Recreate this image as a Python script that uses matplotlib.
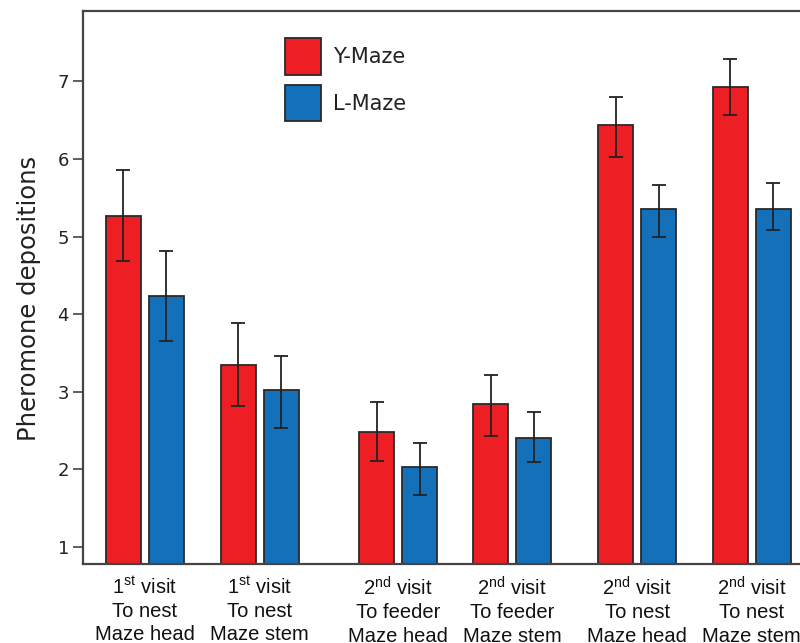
import matplotlib
matplotlib.use("Agg")
import matplotlib.pyplot as plt
import numpy as np

# ---- data ----
categories = [
    "1$^{\\mathrm{st}}$ visit\nTo nest\nMaze head",
    "1$^{\\mathrm{st}}$ visit\nTo nest\nMaze stem",
    "2$^{\\mathrm{nd}}$ visit\nTo feeder\nMaze head",
    "2$^{\\mathrm{nd}}$ visit\nTo feeder\nMaze stem",
    "2$^{\\mathrm{nd}}$ visit\nTo nest\nMaze head",
    "2$^{\\mathrm{nd}}$ visit\nTo nest\nMaze stem",
]
y_maze = [5.26, 3.34, 2.48, 2.84, 6.44, 6.93]
y_maze_err_low = [0.57, 0.52, 0.37, 0.41, 0.41, 0.36]
y_maze_err_high = [0.60, 0.55, 0.39, 0.37, 0.36, 0.36]
l_maze = [4.23, 3.02, 2.03, 2.40, 5.35, 5.35]
l_maze_err_low = [0.58, 0.49, 0.36, 0.31, 0.35, 0.27]
l_maze_err_high = [0.58, 0.44, 0.31, 0.34, 0.32, 0.34]
yticks = [1, 2, 3, 4, 5, 6, 7]

# ---- layout ----
group_pos = np.array([0.0, 1.0, 2.204, 3.196, 4.283, 5.278])
offset = 0.187
width = 0.304

plt.rcParams['mathtext.fontset'] = 'custom'
plt.rcParams['mathtext.rm'] = 'Liberation Sans'
plt.rcParams['mathtext.it'] = 'Liberation Sans'

fig = plt.figure(figsize=(8.0, 6.43), dpi=100)
ax = fig.add_axes([0.1035, 0.1236, 0.9, 0.8598])

red = "#ED1F24"
blue = "#1370B9"
edge = "#2a2a2a"

ax.bar(group_pos - offset, np.array(y_maze), width, bottom=0, color=red,
       edgecolor=edge, linewidth=1.3, label="Y-Maze", zorder=2)
ax.bar(group_pos + offset, np.array(l_maze), width, bottom=0, color=blue,
       edgecolor=edge, linewidth=1.3, label="L-Maze", zorder=2)
ax.errorbar(group_pos - offset, y_maze, yerr=[y_maze_err_low, y_maze_err_high],
            fmt='none', ecolor="#222222", elinewidth=1.3, capsize=4.8, capthick=1.3, zorder=3)
ax.errorbar(group_pos + offset, l_maze, yerr=[l_maze_err_low, l_maze_err_high],
            fmt='none', ecolor="#222222", elinewidth=1.3, capsize=4.8, capthick=1.3, zorder=3)

ax.set_ylim(0.787, 7.91)
ax.set_xlim(-0.539, 5.722)
ax.set_yticks(yticks)
ax.set_yticklabels([str(t) for t in yticks], fontsize=13, family="DejaVu Sans", color="#222222")
ax.tick_params(axis='y', length=7, width=1.2, color="#444444", pad=3)
ax.set_xticks(group_pos)
ax.set_xticklabels(categories, fontsize=14.5, family="Liberation Sans", linespacing=1.28,
                   color="#111111")
ax.tick_params(axis='x', length=0, pad=9)

ax.set_ylabel("Pheromone depositions", fontsize=17.5, family="DejaVu Sans", color="#222222")
ax.yaxis.set_label_coords(-0.058, 0.48)

for s in ["left", "bottom", "top"]:
    ax.spines[s].set_color("#444444")
    ax.spines[s].set_linewidth(1.6)
ax.spines["right"].set_visible(False)

leg = ax.legend(loc="upper left", bbox_to_anchor=(0.269, 0.965), frameon=False,
                fontsize=15, handlelength=1.73, handleheight=2.3, handletextpad=0.6,
                labelspacing=0.5, borderaxespad=0)
for t in leg.get_texts():
    t.set_family("DejaVu Sans")
    t.set_color("#222222")

fig.savefig("out.png", dpi=100)
